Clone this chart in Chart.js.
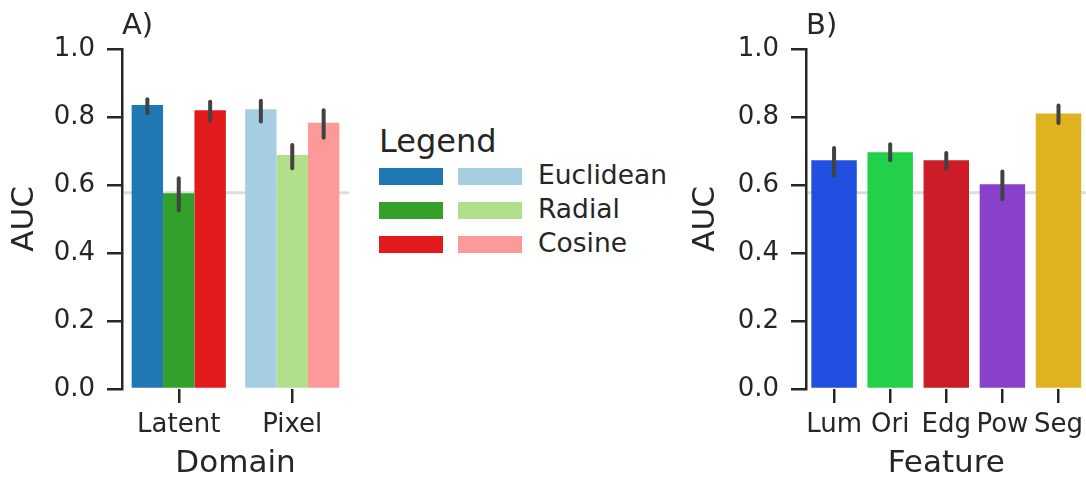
<!DOCTYPE html>
<html>
<head>
<meta charset="utf-8">
<script src="https://cdn.jsdelivr.net/npm/chart.js@4"></script>
<style>
html, body { margin:0; padding:0; background:#fff; overflow:hidden; width:1086px; height:479px; }
body { position:relative; font-family:"DejaVu Sans", sans-serif; color:#262626; }
.box { position:absolute; top:0; height:479px; }
#boxA { left:0; width:360px; }
#boxB { left:681px; width:409px; }
.panel { position:absolute; top:7px; font-size:29px; line-height:normal; }
#legend { position:absolute; left:0; top:0; }
.lgTitle { position:absolute; left:379px; top:122px; font-size:32px; line-height:normal; white-space:nowrap; }
.patch { position:absolute; width:64px; height:17px; }
.lgLabel { position:absolute; left:538px; font-size:26.5px; line-height:normal; white-space:nowrap; }
</style>
</head>
<body>
<div class="box" id="boxA"><canvas id="chartA"></canvas></div>
<div class="box" id="boxB"><canvas id="chartB"></canvas></div>
<div class="panel" style="left:122px">A)</div>
<div class="panel" style="left:806px">B)</div>
<div id="legend"></div>
<script>
// Panel A: AUC per domain and distance measure
const domains = ['Latent', 'Pixel'];
const measures = ['Euclidean', 'Radial', 'Cosine'];
const euclidean = [0.835, 0.823];
const radial = [0.576, 0.688];
const cosine = [0.820, 0.783];
const euclideanErr = [[0.811, 0.852], [0.787, 0.848]];
const radialErr = [[0.526, 0.620], [0.649, 0.718]];
const cosineErr = [[0.789, 0.845], [0.739, 0.820]];
const darkColors = ['#1f78b4', '#33a02c', '#e31a1c'];
const lightColors = ['#a6cee3', '#b2df8a', '#fb9a99'];

// Panel B: AUC per feature
const features = ['Lum', 'Ori', 'Edg', 'Pow', 'Seg'];
const featureAuc = [0.673, 0.696, 0.673, 0.602, 0.810];
const featureErr = [[0.628, 0.709], [0.673, 0.720], [0.648, 0.694], [0.558, 0.640], [0.782, 0.834]];
const featureColors = ['#2150e0', '#22d04a', '#cb1c27', '#8941cc', '#dfb220'];

const chance = 0.577;

Chart.defaults.font.family = 'DejaVu Sans';
Chart.defaults.color = '#262626';

const ink = '#262626';

// gray chance line behind the bars
const chanceLine = {
    id: 'chanceLine',
    beforeDatasetsDraw(chart) {
        const ctx = chart.ctx;
        const y = chart.scales.y.getPixelForValue(chance);
        ctx.save();
        ctx.strokeStyle = '#dddddd';
        ctx.lineWidth = 3;
        ctx.beginPath();
        ctx.moveTo(chart.chartArea.left + 2, y);
        ctx.lineTo(chart.chartArea.right, y);
        ctx.stroke();
        ctx.restore();
    }
};

// confidence intervals on top of bars
const errorBars = {
    id: 'errorBars',
    afterDatasetsDraw(chart) {
        const ctx = chart.ctx;
        const ys = chart.scales.y;
        ctx.save();
        ctx.strokeStyle = '#424242';
        ctx.lineWidth = 4;
        ctx.lineCap = 'round';
        chart.data.datasets.forEach((ds, i) => {
            chart.getDatasetMeta(i).data.forEach((bar, j) => {
                const e = ds.err[j];
                ctx.beginPath();
                ctx.moveTo(bar.x, ys.getPixelForValue(e[0]));
                ctx.lineTo(bar.x, ys.getPixelForValue(e[1]));
                ctx.stroke();
            });
        });
        ctx.restore();
    }
};

function yAxis(width) {
    return {
        min: 0, max: 1,
        ticks: { stepSize: 0.2, padding: 12, color: ink, font: { size: 26 }, callback: v => v.toFixed(1) },
        grid: { display: true, drawOnChartArea: false, drawTicks: true, tickLength: 15, lineWidth: 2.5, color: ink },
        border: { display: true, color: ink, width: 2.5 },
        title: { display: true, text: 'AUC', color: ink, font: { size: 31, lineHeight: 1.2 }, padding: { top: 6, bottom: 0 } },
        afterFit: s => { s.width = width; }
    };
}

function xAxis(title) {
    return {
        offset: true,
        ticks: { padding: 7, color: ink, font: { size: 26 }, maxRotation: 0, autoSkip: false },
        grid: { display: true, offset: false, drawOnChartArea: false, drawTicks: true, tickLength: 14, lineWidth: 2.5, color: ink },
        border: { display: false },
        title: { display: true, text: title, color: ink, font: { size: 31, lineHeight: 1.0 }, padding: { top: 0, bottom: 0 } },
        afterFit: s => { s.height = 90; }
    };
}

const commonOptions = {
    responsive: true,
    maintainAspectRatio: false,
    animation: false,
    plugins: { legend: { display: false }, tooltip: { enabled: false } }
};

const seriesA = [euclidean, radial, cosine];
const errA = [euclideanErr, radialErr, cosineErr];

new Chart(document.getElementById('chartA').getContext('2d'), {
    type: 'bar',
    data: {
        labels: domains,
        datasets: measures.map((m, i) => ({
            label: m,
            data: seriesA[i],
            err: errA[i],
            backgroundColor: [darkColors[i], lightColors[i]],
            borderWidth: 0,
            categoryPercentage: 0.83,
            barPercentage: 1.0
        }))
    },
    options: Object.assign({}, commonOptions, {
        layout: { padding: { top: 49, right: 11, left: 0, bottom: 0 } },
        scales: { x: xAxis('Domain'), y: yAxis(122) }
    }),
    plugins: [chanceLine, errorBars]
});

new Chart(document.getElementById('chartB').getContext('2d'), {
    type: 'bar',
    data: {
        labels: features,
        datasets: [{
            label: 'AUC',
            data: featureAuc,
            err: featureErr,
            backgroundColor: featureColors,
            borderWidth: 0,
            categoryPercentage: 1.0,
            barPercentage: 0.81
        }]
    },
    options: Object.assign({}, commonOptions, {
        layout: { padding: { top: 49, right: 0, left: 0, bottom: 0 } },
        scales: { x: xAxis('Feature'), y: yAxis(125) }
    }),
    plugins: [chanceLine, errorBars]
});

// legend with dark (Latent) and light (Pixel) patches
const legend = document.getElementById('legend');
let html = '<div class="lgTitle">Legend</div>';
measures.forEach((m, i) => {
    const top = 168 + i * 34;
    html += '<div class="patch" style="left:379px;top:' + top + 'px;background:' + darkColors[i] + '"></div>';
    html += '<div class="patch" style="left:458px;top:' + top + 'px;background:' + lightColors[i] + '"></div>';
    html += '<div class="lgLabel" style="top:' + (top - 9) + 'px">' + m + '</div>';
});
legend.innerHTML = html;
</script>
</body>
</html>
